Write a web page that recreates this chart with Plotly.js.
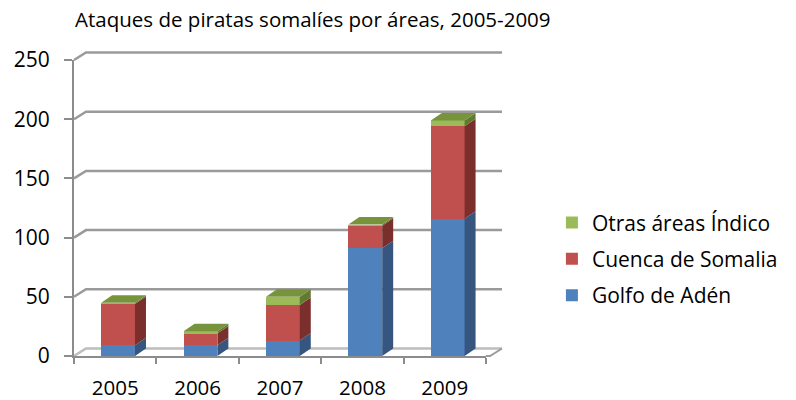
<!DOCTYPE html>
<html>
<head>
<meta charset="utf-8">
<script src="https://cdn.plot.ly/plotly-3.0.1.min.js"></script>
<style>html,body{margin:0;padding:0;background:#fff;}#chart{width:796px;height:400px;}</style>
</head>
<body>
<div id="chart"></div>
<script>
// ---- data ----
const categories = ['2005', '2006', '2007', '2008', '2009'];
const golfoAden = [9, 9, 13, 91, 116];
const cuencaSomalia = [35, 10, 30, 19, 78];
const otrasAreas = [1, 2, 7, 1, 5];
const seriesNames = ['Golfo de Adén', 'Cuenca de Somalia', 'Otras áreas Índico'];
const yTicks = [0, 50, 100, 150, 200, 250];

// ---- style ----
const FONT = 'Open Sans, sans-serif';
const frontColors = ['#4f81bd', '#c0504d', '#9bbb59'];
const sideColors = ['#36557f', '#7b2f2d', '#627a30'];
const topColor = '#77933c';
const W = 412, H = 296;          // plot area px
const DXPX = 11, DYPX = 7.5;     // 3D depth px
const yMax = 250;
const barWidth = 0.41, barOffset = -0.17;
const dx = DXPX / (W / 5), dy = DYPX / (H / yMax);

const xIdx = categories.map((c, i) => i);
const series = [golfoAden, cuencaSomalia, otrasAreas];

const traces = series.map((vals, s) => ({
  type: 'bar', x: xIdx, y: vals, name: seriesNames[s],
  width: barWidth, offset: barOffset,
  marker: {color: frontColors[s], line: {width: 0}},
  legendgroup: 'g' + s, legendrank: 10 - s, hoverinfo: 'y'
}));

const shapes = [];
// back wall gridlines with diagonal connectors
const gx = 12 / W, gy = DYPX / H, gEnd = (502 - 74) / W;
yTicks.forEach(v => {
  const py = v / yMax;
  shapes.push({type: 'path', xref: 'paper', yref: 'paper', layer: 'below',
    path: `M0,${py} L${gx},${py + gy} L${gEnd},${py + gy}`,
    line: {color: v === 0 ? '#bdbdbd' : '#9a9a9a', width: 2.5}});
});
// floor right edge + front extension
shapes.push({type: 'path', xref: 'paper', yref: 'paper', layer: 'below',
  path: `M1,0 L${gEnd - gx},0 L${gEnd},${gy}`,
  line: {color: '#9a9a9a', width: 2}});

// 3D side and top faces from data
xIdx.forEach(i => {
  let base = 0;
  let topSeg = -1;
  series.forEach((vals, s) => { if (vals[i] > 0) topSeg = s; });
  series.forEach((vals, s) => {
    const v = vals[i];
    if (!(v > 0)) return;
    const t = base + v;
    const xR = i + barOffset + barWidth;
    shapes.push({type: 'path', xref: 'x', yref: 'y', layer: 'above',
      path: `M${xR},${base} L${xR + dx},${base + dy} L${xR + dx},${t + dy} L${xR},${t} Z`,
      fillcolor: sideColors[s], line: {width: 0}});
    if (s === topSeg) {
      const xL = i + barOffset;
      shapes.push({type: 'path', xref: 'x', yref: 'y', layer: 'above',
        path: `M${xL},${t} L${xR},${t} L${xR + dx},${t + dy} L${xL + dx},${t + dy} Z`,
        fillcolor: topColor, line: {width: 0}});
    }
    base = t;
  });
});

const layout = {
  width: 796, height: 400,
  margin: {l: 74, r: 310, t: 60, b: 44},
  paper_bgcolor: '#ffffff', plot_bgcolor: 'rgba(0,0,0,0)',
  font: {family: FONT, color: '#000'},
  title: {text: 'Ataques de piratas somalíes por áreas, 2005-2009',
    font: {family: FONT, size: 20.5, color: '#000'},
    x: 0.393, xanchor: 'center', xref: 'container', y: 0.95, yanchor: 'middle', yref: 'container'},
  barmode: 'stack', bargap: 0,
  showlegend: true,
  legend: {x: 1.16, xanchor: 'left', y: 0.328, yanchor: 'middle',
    traceorder: 'grouped', tracegroupgap: 6,
    font: {family: FONT, size: 21, color: '#000'}, bgcolor: 'rgba(0,0,0,0)'},
  xaxis: {range: [-0.5, 4.5], tickvals: xIdx, ticktext: categories,
    showgrid: false, zeroline: false, showline: true, linecolor: '#8c8c8c', linewidth: 2,
    ticks: '', ticklabelstandoff: 12,
    minor: {tickvals: [-0.5, 0.5, 1.5, 2.5, 3.5, 4.5], ticks: 'outside', ticklen: 6, tickcolor: '#8c8c8c', tickwidth: 2},
    tickfont: {family: FONT, size: 20.5, color: '#000'}, fixedrange: true},
  yaxis: {range: [0, yMax], tickvals: yTicks, showgrid: false, zeroline: false,
    showline: true, linecolor: '#8c8c8c', linewidth: 2,
    ticks: 'outside', ticklen: 8, tickcolor: '#8c8c8c', tickwidth: 2, ticklabelstandoff: 10,
    tickfont: {family: FONT, size: 21, color: '#000'}, fixedrange: true},
  shapes: shapes
};

Plotly.newPlot('chart', traces, layout, {displayModeBar: false, staticPlot: true});
</script>
</body>
</html>
